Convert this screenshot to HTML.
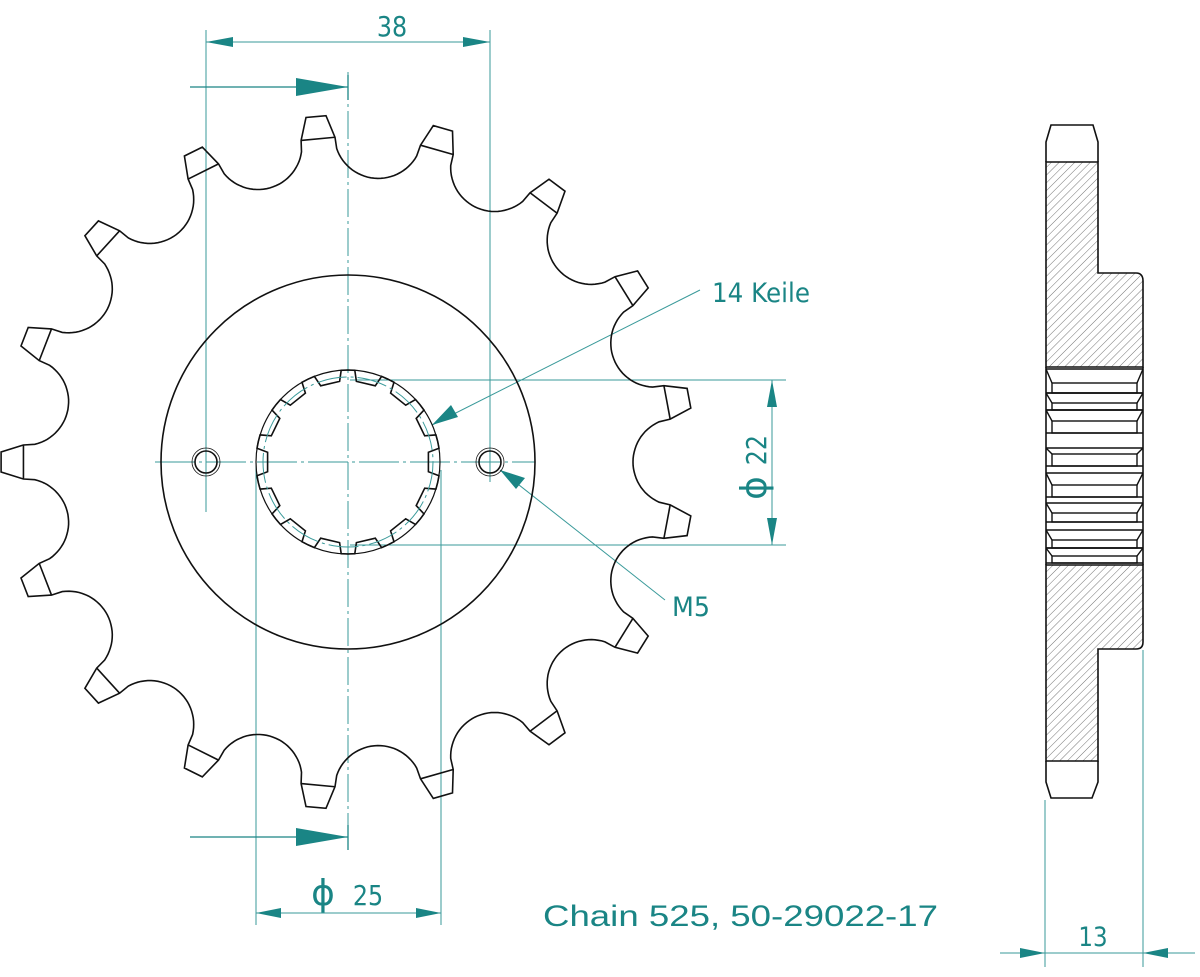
<!DOCTYPE html>
<html><head><meta charset="utf-8"><style>
html,body{margin:0;padding:0;background:#fff;}
svg{display:block;}
.t{fill:#1a8585;font-family:"DejaVu Sans","Liberation Sans",sans-serif;}
</style></head><body>
<svg id="s" width="1200" height="977" viewBox="0 0 1200 977" xmlns="http://www.w3.org/2000/svg">
<defs>
<pattern id="h" patternUnits="userSpaceOnUse" width="5.5" height="5.5" patternTransform="rotate(45)">
<line x1="0" y1="0" x2="0" y2="5.5" stroke="#666" stroke-width="0.9"/>
</pattern>
</defs>
<g id="dims" stroke="#3a9a9a" stroke-width="1" fill="none">
<line x1="348" y1="72" x2="348" y2="850" stroke-dasharray="28,4,3,4"/>
<line x1="155" y1="462" x2="535" y2="462" stroke-dasharray="40,4,3,4"/>
<line x1="206" y1="30" x2="206" y2="512"/>
<line x1="490" y1="30" x2="490" y2="482"/>
<line x1="206" y1="42" x2="490" y2="42"/>
<line x1="350" y1="380" x2="786" y2="380"/>
<line x1="350" y1="545" x2="786" y2="545"/>
<line x1="772" y1="380" x2="772" y2="545"/>
<line x1="256" y1="462" x2="256" y2="925"/>
<line x1="441" y1="470" x2="441" y2="925"/>
<line x1="256" y1="913" x2="441" y2="913"/>
<line x1="1045" y1="800" x2="1045" y2="967"/>
<line x1="1143" y1="650" x2="1143" y2="967"/>
<line x1="1000" y1="953" x2="1195" y2="953"/>
<line x1="700" y1="290" x2="432" y2="425"/>
<line x1="665" y1="600" x2="500" y2="470"/>
<line x1="190" y1="87" x2="348" y2="87" stroke="#1a8585" stroke-width="1.3"/>
<line x1="348" y1="75" x2="348" y2="100" stroke="#1a8585" stroke-width="1.3"/>
<line x1="190" y1="837" x2="348" y2="837" stroke="#1a8585" stroke-width="1.3"/>
<line x1="348" y1="825" x2="348" y2="850" stroke="#1a8585" stroke-width="1.3"/>
</g>
<g fill="#1a8585">
<polygon points="296,78 348,87 296,96"/>
<polygon points="296,828 348,837 296,846"/>
<polygon points="206,42 233,37 233,47"/>
<polygon points="490,42 463,37 463,47"/>
<polygon points="772,380 767,407 777,407"/>
<polygon points="772,545 767,518 777,518"/>
<polygon points="256,913 281,908 281,918"/>
<polygon points="441,913 416,908 416,918"/>
<polygon points="1045,953 1020,948 1020,958"/>
<polygon points="1143,953 1168,948 1168,958"/>
<polygon points="432,425 451,405 458,417"/>
<polygon points="500,470 525,478 516,489"/>
</g>
<text class="t" x="392" y="36" font-size="28" text-anchor="middle" transform="translate(392,0) scale(0.85,1) translate(-392,0)">38</text>
<text class="t" x="712" y="302" font-size="27" textLength="98" lengthAdjust="spacingAndGlyphs">14 Keile</text>
<text class="t" x="672" y="616" font-size="27" textLength="38" lengthAdjust="spacingAndGlyphs">M5</text>
<text class="t" x="1093" y="946" font-size="27" text-anchor="middle" transform="translate(1093,0) scale(0.85,1) translate(-1093,0)">13</text>
<g transform="translate(766,462) rotate(-90)"><text class="t" x="-26" y="0" font-size="36" text-anchor="middle">ϕ</text><text class="t" x="14" y="0" font-size="28" text-anchor="middle" transform="scale(0.85,1)">22</text></g>
<text class="t" x="323" y="905" font-size="36" text-anchor="middle">ϕ</text>
<text class="t" x="368" y="905" font-size="28" text-anchor="middle" transform="translate(368,0) scale(0.85,1) translate(-368,0)">25</text>
<text class="t" x="543" y="926" font-size="30" textLength="395" lengthAdjust="spacingAndGlyphs" style="font-family:'Liberation Sans',sans-serif">Chain 525, 50-29022-17</text>

<g id="front" fill="none" stroke="#111" stroke-width="1.6"></g>

<g stroke="#111" stroke-width="1.6">
<path d="M1046,162 L1098,162 L1098,273 L1136,273 Q1143,273 1143,281 L1143,367 L1046,367 Z" fill="url(#h)"/>
<path d="M1046,565 L1143,565 L1143,642 Q1143,649 1136,649 L1098,649 L1098,761 L1046,761 Z" fill="url(#h)"/>
<path d="M1046,162 L1046,142 L1051,125 L1093,125 L1098,142 L1098,162" fill="none"/>
<path d="M1046,761 L1046,782 L1051,798 L1092,798 L1098,782 L1098,761" fill="none"/>
<line x1="1046" y1="367" x2="1046" y2="565"/>
<line x1="1143" y1="367" x2="1143" y2="565"/>
</g>
<g id="spl" stroke="#111" stroke-width="1.4" fill="none"></g>
</svg>
<script>
var NS="http://www.w3.org/2000/svg";
function el(p,n,a){var e=document.createElementNS(NS,n);for(var k in a)e.setAttribute(k,a[k]);p.appendChild(e);return e;}
var cx=348,cy=462,g=document.getElementById('front');
function P(r,a){return [cx+r*Math.cos(a),cy-r*Math.sin(a)];}
var N=17,d=2*Math.PI/N,Rp=329,rr=44,al=66*Math.PI/180;
var pts=[],chams=[];
for(var i=0;i<N;i++){
 var t=Math.PI+i*d;
 var c1=P(325,t-17/325),t1=P(347,t-10/347),t2=P(347,t+10/347),c2=P(325,t+17/325);
 pts.push(c1,t1,t2,c2);chams.push([c1,c2]);
 var v=t+d/2;var C=[Rp*Math.cos(v),Rp*Math.sin(v)];
 for(var k=0;k<=30;k++){
  var ph=v+Math.PI+al-2*al*k/30;
  var x=C[0]+rr*Math.cos(ph),y=C[1]+rr*Math.sin(ph);
  pts.push([cx+x,cy-y]);
 }
}
el(g,'path',{d:'M'+pts.map(function(p){return p[0].toFixed(1)+','+p[1].toFixed(1)}).join(' L')+' Z'});
chams.forEach(function(c){el(g,'line',{x1:c[0][0],y1:c[0][1],x2:c[1][0],y2:c[1][1]});});
el(g,'circle',{cx:cx,cy:cy,r:187});
var sp=[],K=14,dk=2*Math.PI/K;
for(var i=0;i<K;i++){
 var a=i*dk,ro=92,ri=81;
 sp.push(P(ro,a-dk/2+0.001));
 sp.push(P(ro,a-0.15));sp.push(P(ri,a-0.12));sp.push(P(ri,a+0.12));sp.push(P(ro,a+0.15));
}
el(g,'path',{d:'M'+sp.map(function(p){return p[0].toFixed(1)+','+p[1].toFixed(1)}).join(' L')+' Z'});
el(g,'circle',{cx:cx,cy:cy,r:92,'stroke-width':1.2});
el(g,'circle',{cx:cx,cy:cy,r:85,stroke:'#3a9a9a','stroke-width':1,'stroke-dasharray':'30,4,3,4'});
[206,490].forEach(function(x){el(g,'circle',{cx:x,cy:462,r:11});el(g,'circle',{cx:x,cy:462,r:14,'stroke-width':0.8});});
var s=document.getElementById('spl');
var bands=[[369,383,393],[393,403,410],[410,421,433],[448,454,466],[473,485,497],[503,513,522],[530,540,548],[548,556,563]];
bands.forEach(function(b){
 el(s,'line',{x1:1046,y1:b[0],x2:1143,y2:b[0]});
 el(s,'line',{x1:1046,y1:b[0],x2:1052,y2:b[1]});
 el(s,'line',{x1:1143,y1:b[0],x2:1137,y2:b[1]});
 el(s,'rect',{x:1052,y:b[1],width:85,height:b[2]-b[1]});
 el(s,'line',{x1:1046,y1:b[2],x2:1143,y2:b[2]});
});
</script>
</body></html>
